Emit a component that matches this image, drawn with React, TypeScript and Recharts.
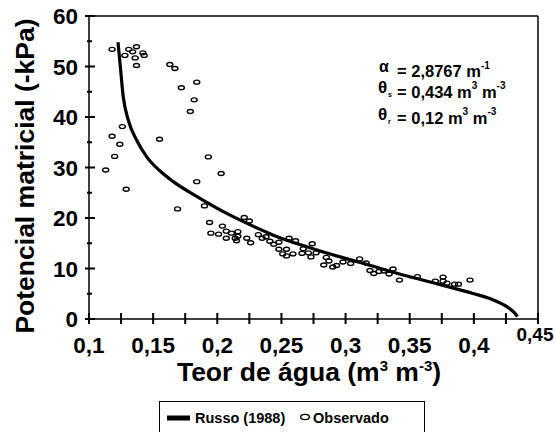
import React from 'react';
import { ComposedChart, Line, Scatter, XAxis, YAxis, ReferenceLine, Legend } from 'recharts';

// observed points: water content (m3 m-3) and matric potential (-kPa)
const obsTheta = [
  0.118, 0.128, 0.131, 0.134, 0.137, 0.136, 0.142, 0.143, 0.137, 0.163,
  0.167, 0.184, 0.172, 0.182, 0.179, 0.126, 0.118, 0.124, 0.155, 0.12,
  0.193, 0.113, 0.203, 0.184, 0.129, 0.169, 0.19, 0.221, 0.194, 0.195,
  0.201, 0.204, 0.207, 0.207, 0.211, 0.214, 0.215, 0.216, 0.216, 0.225,
  0.223, 0.226, 0.232, 0.235, 0.238, 0.241, 0.244, 0.248, 0.248, 0.251,
  0.254, 0.254, 0.256, 0.259, 0.261, 0.266, 0.267, 0.271, 0.273, 0.274,
  0.277, 0.285, 0.287, 0.283, 0.29, 0.293, 0.298, 0.304, 0.311, 0.316,
  0.319, 0.322, 0.326, 0.33, 0.334, 0.337, 0.342, 0.356, 0.37, 0.376,
  0.376, 0.379, 0.385, 0.388, 0.397,
];
const obsPsi = [
  53.4, 52.2, 53.4, 52.9, 53.9, 51.7, 52.7, 52.2, 50.2, 50.4,
  49.6, 46.9, 45.8, 43.4, 41.1, 38.1, 36.2, 34.6, 35.6, 32.2,
  32.1, 29.5, 28.8, 27.2, 25.7, 21.8, 22.4, 20.1, 19.1, 17.0,
  16.8, 18.4, 17.4, 16.0, 17.0, 16.0, 15.5, 17.3, 16.4, 19.4,
  16.0, 15.1, 16.7, 16.0, 16.3, 15.4, 14.8, 15.2, 13.8, 12.9,
  13.8, 12.5, 16.0, 12.9, 15.5, 13.0, 13.9, 13.1, 12.3, 14.9,
  13.1, 12.2, 11.5, 10.7, 10.3, 10.6, 11.3, 11.0, 11.9, 11.1,
  9.6, 9.0, 9.4, 9.5, 8.9, 9.9, 7.7, 8.4, 7.5, 8.3,
  7.5, 7.1, 6.9, 6.9, 7.7,
];

// Russo (1988) fitted curve
const russoTheta = [
  0.1226, 0.1242, 0.1267, 0.1306, 0.1372, 0.145, 0.1554, 0.1657, 0.1865, 0.2074,
  0.232, 0.2437, 0.2697, 0.2957, 0.3113, 0.348, 0.374, 0.4, 0.413, 0.426, 0.431, 0.434,
];
const russoPsi = [
  54.8, 50.6, 44.0, 39.4, 35.4, 32.1, 29.3, 27.2, 23.9, 20.9,
  17.9, 16.6, 14.3, 12.3, 11.2, 8.5, 6.8, 5.0, 4.0, 2.4, 1.4, 0.5,
];

const xTicks = [0.1, 0.125, 0.15, 0.175, 0.2, 0.225, 0.25, 0.275, 0.3, 0.325, 0.35, 0.375, 0.4, 0.425, 0.45];
const xMajor = [0.1, 0.15, 0.2, 0.25, 0.3, 0.35, 0.4, 0.45];
const xLabels = ['0,1', '0,15', '0,2', '0,25', '0,3', '0,35', '0,4', '0,45'];
const yTicks = [0, 5, 10, 15, 20, 25, 30, 35, 40, 45, 50, 55, 60];

const observed = obsTheta.map((x, i) => ({ x, y: obsPsi[i] }));
const russo = russoTheta.map((x, i) => ({ x, y: russoPsi[i] }));

const FONT = '"Liberation Sans", Arial, sans-serif';

// tickSize 5 / tickMargin 0: tick x,y arrive 5px outside the axis line
// the marks cross the axis, so both halves are drawn here
const XTick = ({ x, y, payload }: any) => {
  const cx = Number(x);
  const ay = Number(y) - 5;
  const i = xMajor.findIndex((v) => Math.abs(v - payload.value) < 1e-6);
  const last = i === xMajor.length - 1;
  return (
    <g>
      <rect x={cx - 1} y={ay - 6} width={2} height={11} fill="#000" />
      {i >= 0 && (
        <text
          x={last ? cx - 3 : cx}
          y={last ? ay + 22 : ay + 34}
          textAnchor="middle"
          fontFamily={FONT}
          fontWeight={700}
          fontSize={last ? 19 : 22.5}
          fill="#000"
        >
          {xLabels[i]}
        </text>
      )}
    </g>
  );
};

const YTick = ({ x, y, payload }: any) => {
  const ax = Number(x) + 5;
  const cy = Number(y);
  const major = payload.value % 10 === 0;
  return (
    <g>
      <rect x={major ? ax - 4 : ax - 2} y={cy - 1} width={major ? 10 : 5} height={2} fill="#000" />
      {major && (
        <text x={ax - 11} y={cy + 8} textAnchor="end" fontFamily={FONT} fontWeight={700} fontSize={22.5} fill="#000">
          {payload.value}
        </text>
      )}
    </g>
  );
};

const Dot = ({ cx, cy }: any) => (
  <ellipse cx={cx} cy={cy} rx={3} ry={2} fill="none" stroke="#000" strokeWidth={1.4} />
);

const LegendBox = () => (
  <svg width={266} height={40} style={{ display: 'block' }}>
    <rect x={0.5} y={0.5} width={265} height={40} fill="#fff" stroke="#000" strokeWidth={1} />
    <line x1={8} x2={31} y1={17} y2={17} stroke="#000" strokeWidth={5} />
    <text x={36} y={22} fontFamily={FONT} fontWeight={700} fontSize={14.5} fill="#000">Russo (1988)</text>
    <ellipse cx={146} cy={16} rx={4.3} ry={2.6} fill="none" stroke="#000" strokeWidth={1.4} />
    <text x={154} y={22} fontFamily={FONT} fontWeight={700} fontSize={14.5} fill="#000">Observado</text>
  </svg>
);

const txt = { fontFamily: FONT, fontWeight: 700, fill: '#000' } as const;

export default function App() {
  return (
    <div style={{ position: 'absolute', left: 0, top: 0, width: 556, height: 432, overflow: 'hidden', background: '#fff' }}>
      <ComposedChart width={556} height={432} margin={{ top: 16, right: 18, left: 29, bottom: 83 }}>
        <XAxis
          dataKey="x"
          type="number"
          domain={[0.1, 0.45]}
          ticks={xTicks}
          interval={0}
          tick={<XTick />}
          tickLine={false}
          tickSize={5}
          tickMargin={0}
          height={30}
          axisLine={{ stroke: '#000', strokeWidth: 1.5 }}
        />
        <YAxis
          dataKey="y"
          type="number"
          domain={[0, 60]}
          ticks={yTicks}
          interval={0}
          tick={<YTick />}
          tickLine={false}
          tickSize={5}
          tickMargin={0}
          width={60}
          axisLine={{ stroke: '#000', strokeWidth: 1.5 }}
        />
        <ReferenceLine y={60} stroke="#000" strokeWidth={1.5} />
        <ReferenceLine x={0.45} stroke="#000" strokeWidth={1.5} />
        <Line
          data={russo}
          dataKey="y"
          type="monotone"
          stroke="#000"
          strokeWidth={3.2}
          dot={false}
          name="Russo (1988)"
          isAnimationActive={false}
        />
        <Scatter data={observed} dataKey="y" shape={<Dot />} name="Observado" isAnimationActive={false} />
        <Legend
          layout="horizontal"
          verticalAlign="middle"
          align="center"
          content={<LegendBox />}
          wrapperStyle={{ left: 159, top: 401, width: 266, height: 40 }}
        />
      </ComposedChart>
      <svg width={556} height={432} style={{ position: 'absolute', left: 0, top: 0, pointerEvents: 'none' }}>
        <text {...txt} fontSize={26.5} textAnchor="middle" transform="translate(34,176) rotate(-90)">
          Potencial matricial (-kPa)
        </text>
        <text {...txt} fontSize={26.5} x={309} y={381} textAnchor="middle">
          Teor de água (m<tspan fontSize={15} dy={-10}>3</tspan>
          <tspan dy={10}>{' m'}</tspan>
          <tspan fontSize={15} dy={-10}>-3</tspan>
          <tspan dy={10}>)</tspan>
        </text>
        <text {...txt} fontSize={16} x={379} y={72}>α</text>
        <text {...txt} fontSize={16.5} x={397} y={77}>
          = 2,8767 m<tspan fontSize={10} dy={-8}>-1</tspan>
        </text>
        <text {...txt} fontSize={17} x={378} y={93}>θ</text>
        <text {...txt} fontSize={7} x={388} y={97}>s</text>
        <text {...txt} fontSize={16.5} x={397} y={98}>
          = 0,434 m<tspan fontSize={10} dy={-9}>3</tspan>
          <tspan dy={9}>{' m'}</tspan>
          <tspan fontSize={10} dy={-9}>-3</tspan>
        </text>
        <text {...txt} fontSize={17} x={378} y={120}>θ</text>
        <text {...txt} fontSize={7} x={388} y={124}>r</text>
        <text {...txt} fontSize={16.5} x={397} y={124}>
          = 0,12 m<tspan fontSize={10} dy={-9}>3</tspan>
          <tspan dy={9}>{' m'}</tspan>
          <tspan fontSize={10} dy={-9}>-3</tspan>
        </text>
      </svg>
    </div>
  );
}
